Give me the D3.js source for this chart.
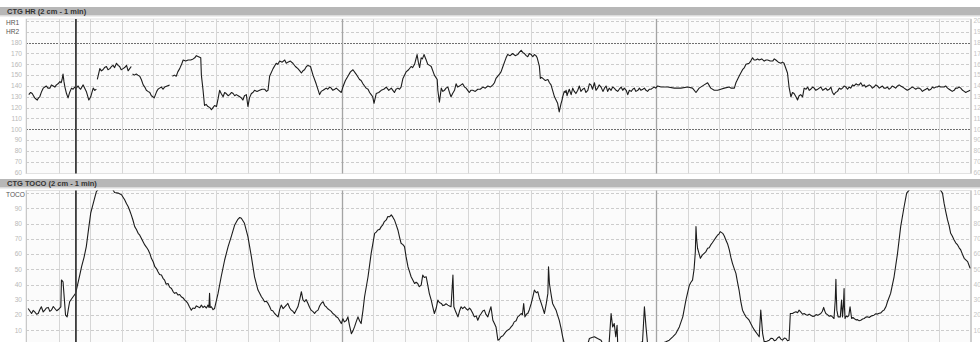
<!DOCTYPE html>
<html>
<head>
<meta charset="utf-8">
<script src="https://cdn.jsdelivr.net/npm/d3@7"></script>
<style>
  body { margin: 0; background: #ffffff; }
  svg { display: block; }
  text { font-family: "Liberation Sans", Arial, sans-serif; }
</style>
</head>
<body>
<svg id="chart" width="980" height="342"></svg>
<script>
// ---- recording data -------------------------------------------------------
// Time axis in minutes (2 cm per minute on paper), one grid line per minute.
const minuteTicks = d3.range(0, 31);
const boldMinutes = [10, 20];
const markerMinute = 1.54;

const hrTicks = [60, 70, 80, 90, 100, 110, 120, 130, 140, 150, 160, 170, 180, 190, 200];
const hrBoldTicks = [100, 180];
const hrLeftLabels = ["60", "70", "80", "90", "100", "110", "120", "130", "140", "150", "160", "170", "180", "HR2", "HR1"];

const tocoTicks = [0, 10, 20, 30, 40, 50, 60, 70, 80, 90, 100];
const tocoLeftLabels = ["", "10", "20", "30", "40", "50", "60", "70", "80", "90", "TOCO"];

// Fetal heart rate [minute, bpm]; null marks signal loss
const hrTrace = [
  [0.04,132],[0.1,134],[0.15,133],[0.19,131],[0.23,129],[0.27,128],[0.31,127],[0.35,129],
  [0.39,130],[0.45,135],[0.5,138],[0.55,139],[0.6,140],[0.65,138],[0.71,138],[0.76,141],
  [0.82,140],[0.87,139],[0.92,141],[0.97,142],[1.03,144],[1.07,143],[1.1,146],[1.13,151],
  [1.16,144],[1.19,139],[1.24,133],[1.29,129],[1.34,134],[1.4,138],[1.45,137],[1.5,139],
  [1.55,138],[1.61,140],[1.65,138],[1.69,137],[1.73,139],[1.77,141],[1.82,138],[1.87,135],
  [1.91,131],[1.95,127],[2.01,130],[2.05,134],[2.09,138],[2.14,136],[2.19,137],[2.2,null],
  [2.22,146],[2.26,151],[2.3,156],[2.35,154],[2.4,155],[2.45,157],[2.51,158],[2.56,155],
  [2.62,156],[2.67,158],[2.72,159],[2.77,157],[2.83,161],[2.88,159],[2.93,158],[2.98,155],
  [3.04,156],[3.09,157],[3.15,159],[3.2,154],[3.25,156],[3.3,158],[3.32,null],
  [3.34,151],[3.4,150],[3.46,151],[3.51,150],[3.57,149],[3.62,146],[3.68,141],[3.73,139],
  [3.78,136],[3.83,135],[3.89,134],[3.94,131],[3.99,130],[4.03,129],[4.07,132],[4.11,135],
  [4.15,137],[4.2,138],[4.26,139],[4.31,137],[4.36,139],[4.44,140],[4.52,141],[4.56,null],
  [4.61,149],[4.67,150],[4.73,149],[4.78,153],[4.84,156],[4.9,160],[4.95,164],[5.03,163],
  [5.11,164],[5.19,164],[5.27,165],[5.32,166],[5.37,168],[5.44,167],[5.51,166],[5.53,150],
  [5.58,137],[5.63,122],[5.68,123],[5.74,121],[5.8,120],[5.85,118],[5.9,120],[5.95,122],
  [6.01,121],[6.06,128],[6.11,136],[6.16,133],[6.22,130],[6.27,134],[6.32,133],[6.38,131],
  [6.43,132],[6.49,134],[6.54,133],[6.59,131],[6.64,132],[6.7,131],[6.75,130],[6.8,129],
  [6.85,127],[6.9,131],[6.96,132],[7.01,121],[7.06,129],[7.12,133],[7.17,134],[7.22,136],
  [7.3,135],[7.38,136],[7.46,137],[7.54,137],[7.6,135],[7.65,136],[7.7,149],[7.81,156],
  [7.91,161],[7.96,160],[8.02,163],[8.1,162],[8.18,164],[8.23,161],[8.28,162],[8.36,163],
  [8.44,161],[8.52,158],[8.6,156],[8.66,154],[8.71,152],[8.76,154],[8.81,155],[8.87,158],
  [8.92,159],[9.0,158],[9.08,150],[9.18,142],[9.29,132],[9.34,135],[9.4,136],[9.45,137],
  [9.5,138],[9.55,137],[9.61,139],[9.66,138],[9.71,136],[9.77,137],[9.82,138],[9.9,136],
  [9.98,134],[10.03,139],[10.11,145],[10.19,149],[10.27,153],[10.35,155],[10.45,151],[10.56,146],
  [10.61,145],[10.67,142],[10.72,140],[10.77,138],[10.83,137],[10.88,134],[10.93,132],[10.98,130],
  [11.02,124],[11.09,133],[11.17,134],[11.25,136],[11.33,137],[11.41,139],[11.49,136],[11.57,138],
  [11.62,136],[11.67,134],[11.72,137],[11.78,138],[11.83,137],[11.88,139],[11.94,147],[12.04,153],
  [12.12,155],[12.2,158],[12.25,157],[12.31,160],[12.39,169],[12.43,162],[12.47,157],[12.52,166],
  [12.56,165],[12.61,169],[12.68,164],[12.73,160],[12.79,159],[12.84,158],[12.94,150],[13.03,146],
  [13.05,136],[13.1,125],[13.16,138],[13.21,135],[13.26,136],[13.31,138],[13.37,139],[13.42,134],
  [13.47,130],[13.52,133],[13.58,136],[13.63,142],[13.68,139],[13.74,140],[13.79,141],[13.84,142],
  [13.9,139],[13.95,138],[14.0,136],[14.05,134],[14.1,136],[14.16,136],[14.24,135],[14.32,137],
  [14.4,137],[14.48,139],[14.56,138],[14.64,140],[14.72,139],[14.8,141],[14.85,143],[14.9,147],
  [15.01,151],[15.06,153],[15.12,158],[15.17,162],[15.22,166],[15.27,169],[15.35,168],[15.43,170],
  [15.51,168],[15.59,169],[15.64,171],[15.7,173],[15.75,171],[15.8,170],[15.86,168],[15.91,167],
  [15.96,170],[16.02,169],[16.07,167],[16.12,169],[16.17,168],[16.21,166],[16.28,158],[16.31,147],
  [16.35,148],[16.39,147],[16.47,145],[16.55,146],[16.6,143],[16.65,141],[16.7,136],[16.76,130],
  [16.81,127],[16.86,124],[16.91,116],[16.97,124],[17.0,127],[17.02,130],[17.05,133],[17.07,135],
  [17.1,134],[17.13,136],[17.16,131],[17.18,133],[17.23,137],[17.29,132],[17.34,138],[17.39,135],
  [17.44,133],[17.5,136],[17.55,140],[17.6,135],[17.66,137],[17.71,138],[17.76,134],[17.82,136],
  [17.87,142],[17.92,141],[17.97,137],[18.03,143],[18.08,136],[18.13,138],[18.18,141],[18.24,139],
  [18.3,135],[18.35,138],[18.4,140],[18.45,135],[18.5,138],[18.56,136],[18.61,139],[18.66,138],
  [18.72,136],[18.77,135],[18.82,137],[18.88,139],[18.93,136],[18.98,138],[19.04,136],[19.09,132],
  [19.14,136],[19.2,135],[19.25,137],[19.3,138],[19.35,135],[19.41,136],[19.46,138],[19.51,136],
  [19.57,137],[19.62,138],[19.67,136],[19.72,135],[19.78,137],[19.83,137],[19.88,138],[19.93,139],
  [19.98,138],[20.04,140],[20.15,139],[20.36,139],[20.57,138],[20.78,138],[21.0,139],[21.15,138],
  [21.26,134],[21.36,138],[21.52,141],[21.63,143],[21.73,138],[21.84,136],[21.95,136],[22.05,137],
  [22.16,138],[22.32,139],[22.37,138],[22.48,138],[22.53,143],[22.63,149],[22.74,155],[22.8,157],
  [22.85,160],[22.95,161],[23.0,163],[23.06,166],[23.11,164],[23.16,164],[23.22,165],[23.27,164],
  [23.35,165],[23.43,163],[23.49,164],[23.54,164],[23.62,163],[23.7,163],[23.75,165],[23.8,164],
  [23.88,162],[23.96,161],[24.01,162],[24.06,161],[24.17,152],[24.22,139],[24.28,130],[24.33,134],
  [24.38,133],[24.44,130],[24.49,127],[24.54,131],[24.59,132],[24.65,130],[24.7,138],[24.76,137],
  [24.81,139],[24.86,136],[24.91,137],[24.97,139],[25.02,138],[25.07,136],[25.13,137],[25.18,138],
  [25.23,139],[25.29,136],[25.34,137],[25.39,138],[25.44,136],[25.5,137],[25.55,139],[25.6,134],
  [25.65,132],[25.7,134],[25.76,135],[25.82,138],[25.87,137],[25.92,138],[25.97,140],[26.03,139],
  [26.08,137],[26.13,139],[26.18,138],[26.24,141],[26.29,140],[26.35,142],[26.4,141],[26.45,141],
  [26.5,143],[26.56,140],[26.61,141],[26.66,139],[26.71,140],[26.77,141],[26.82,140],[26.87,138],
  [26.92,139],[26.98,141],[27.03,140],[27.09,138],[27.14,139],[27.19,140],[27.24,138],[27.3,138],
  [27.35,139],[27.4,137],[27.45,138],[27.5,140],[27.56,139],[27.61,138],[27.67,140],[27.72,141],
  [27.77,140],[27.83,139],[27.88,138],[27.93,137],[27.98,136],[28.04,137],[28.09,138],[28.14,139],
  [28.2,138],[28.25,137],[28.3,138],[28.36,138],[28.41,137],[28.46,135],[28.51,136],[28.57,137],
  [28.62,138],[28.67,136],[28.73,137],[28.78,139],[28.83,138],[28.89,139],[28.94,139],[28.99,140],
  [29.04,139],[29.1,139],[29.15,139],[29.2,140],[29.26,138],[29.31,137],[29.36,136],[29.41,135],
  [29.47,136],[29.52,138],[29.58,138],[29.63,139],[29.68,138],[29.74,136],[29.79,135],[29.84,134],
  [29.9,135],[29.98,136]
];

// Uterine activity [minute, toco units]
const tocoTrace = [
  [0.02,24.3],[0.08,22.5],[0.13,21],[0.18,23],[0.23,22],[0.29,20.5],[0.34,21],[0.39,23.5],
  [0.44,25.4],[0.5,22],[0.55,23.2],[0.6,24.6],[0.66,25],[0.71,22.4],[0.76,23.2],[0.82,25.6],
  [0.87,24.3],[0.93,22.8],[0.98,23.6],[1.06,25.4],[1.08,43],[1.13,41.8],[1.17,30.9],[1.21,19.9],
  [1.26,18.8],[1.3,24],[1.34,28.7],[1.45,32],[1.53,34.2],[1.59,39.6],[1.66,46],[1.72,51.7],
  [1.8,58],[1.87,64.9],[1.94,76],[2.01,86.8],[2.12,95.6],[2.19,101],[2.4,106],[2.6,106],
  [2.77,100.4],[2.88,100],[2.99,98.9],[3.09,95.6],[3.15,93],[3.2,91.2],[3.25,88.6],[3.3,85.7],
  [3.35,82.5],[3.41,78],[3.46,76.3],[3.52,73.6],[3.57,72.4],[3.62,70.3],[3.68,67.9],[3.73,66],
  [3.78,64.6],[3.84,62.7],[3.89,60.4],[3.94,57.2],[4.0,54.8],[4.05,51.7],[4.1,50.5],[4.15,48.4],
  [4.2,46.6],[4.26,46.2],[4.31,44.1],[4.36,42.9],[4.41,40.2],[4.47,40.7],[4.52,38.3],[4.58,37.4],
  [4.63,35.4],[4.68,34.2],[4.73,34.8],[4.79,33.1],[4.84,33.5],[4.89,32],[4.95,31.2],[5.0,29.8],
  [5.05,28.9],[5.1,27.6],[5.15,25.5],[5.21,23.2],[5.26,24.6],[5.32,24.3],[5.37,26],[5.42,25.4],
  [5.48,24.8],[5.53,26.5],[5.58,24.9],[5.63,25.8],[5.69,24.6],[5.74,26.5],[5.77,25],[5.79,34.2],
  [5.81,25],[5.85,25.4],[5.9,23.5],[5.95,24.3],[6.06,34.2],[6.16,45.1],[6.27,56.1],[6.38,64.9],
  [6.48,71.4],[6.59,79.1],[6.69,82.8],[6.75,84],[6.8,83.5],[6.9,80.2],[7.01,71.4],[7.12,58.3],
  [7.22,45.1],[7.33,36.4],[7.38,34.5],[7.44,32],[7.49,30.5],[7.54,28.7],[7.6,29],[7.65,27.6],
  [7.7,25.6],[7.75,23.2],[7.8,22.8],[7.86,21],[7.91,20],[7.97,18.8],[8.02,23.5],[8.07,26.5],
  [8.13,24.2],[8.18,25.4],[8.23,26.4],[8.28,27.6],[8.34,24.6],[8.39,23.2],[8.44,22.5],[8.49,21],
  [8.55,23.4],[8.6,25.4],[8.66,30.5],[8.71,35.3],[8.76,30],[8.81,28.7],[8.86,30.2],[8.92,27.6],
  [8.97,25.1],[9.02,23.2],[9.08,22.2],[9.13,21],[9.18,22.4],[9.24,23.2],[9.29,25.9],[9.34,27.6],
  [9.4,28.7],[9.45,26.2],[9.5,25.4],[9.55,24.1],[9.61,23.2],[9.66,22.4],[9.71,21],[9.77,20.1],
  [9.82,18.8],[9.87,18.2],[9.92,16.6],[9.98,14.4],[10.03,17.5],[10.08,15.5],[10.14,16.4],[10.19,18.8],
  [10.24,13.2],[10.3,7.8],[10.35,9.6],[10.4,12.2],[10.45,15.3],[10.51,18.8],[10.56,16.2],[10.61,14.4],
  [10.67,23.2],[10.72,32],[10.83,45.1],[10.93,60.5],[11.04,73.6],[11.09,74.4],[11.14,75.8],[11.2,76.2],
  [11.25,78],[11.3,79.2],[11.35,81.3],[11.41,82.4],[11.46,84.6],[11.52,84.5],[11.57,85.7],[11.62,84.2],
  [11.67,82.4],[11.72,79.5],[11.78,75.8],[11.83,71.2],[11.88,67.1],[11.94,66.2],[11.99,64.9],[12.04,58.3],
  [12.1,51.7],[12.15,48.5],[12.2,45.1],[12.25,43.2],[12.31,40.7],[12.36,41.5],[12.41,40.7],[12.46,38.6],
  [12.52,39.6],[12.57,46.2],[12.62,44.6],[12.68,45.1],[12.73,39.6],[12.78,34.1],[12.84,29.8],[12.89,25.2],
  [12.94,21],[13.0,24.6],[13.05,29.8],[13.1,28.2],[13.16,27.6],[13.21,26.2],[13.26,26.5],[13.31,27.4],
  [13.37,26.5],[13.42,25.9],[13.47,25.4],[13.53,46.2],[13.56,25.4],[13.62,22.1],[13.69,18.8],[13.74,22.6],
  [13.79,25.4],[13.84,24.2],[13.9,25.4],[13.95,24.1],[14.0,23.2],[14.06,24.5],[14.11,23.2],[14.16,21.1],
  [14.21,18.8],[14.27,19.4],[14.32,16.6],[14.38,19.5],[14.43,21],[14.48,22.6],[14.53,23.2],[14.58,20.4],
  [14.64,18.8],[14.69,22.3],[14.74,25.4],[14.8,16.6],[14.85,14.4],[14.9,12.2],[14.96,3.5],[15.01,4.1],
  [15.06,5.7],[15.12,6.4],[15.17,7.8],[15.22,9.2],[15.27,10.1],[15.33,10.8],[15.38,12.2],[15.43,13.4],
  [15.48,15.5],[15.54,16.2],[15.59,18.8],[15.64,19.6],[15.7,21],[15.74,20.2],[15.78,27.6],[15.82,18.8],
  [15.87,20.6],[15.91,21],[15.96,23.5],[16.02,27.6],[16.07,31.8],[16.12,36.4],[16.18,34.6],[16.23,35.3],
  [16.28,31.2],[16.34,27.6],[16.39,24.4],[16.44,21],[16.5,27.6],[16.55,34.2],[16.57,51.7],[16.6,40.5],
  [16.63,36.4],[16.67,31.2],[16.7,27.6],[16.76,25.1],[16.81,23.2],[16.86,19.8],[16.91,16.6],[16.97,11.2],
  [17.02,5.7],[17.07,1.3],[17.45,0],[17.76,0.5],[17.84,2.4],[17.87,4.6],[17.95,5.2],[18.03,5.7],
  [18.13,4.6],[18.24,3.5],[18.29,1.3],[18.4,0],[18.5,2.4],[18.56,21],[18.61,12.2],[18.66,14.4],
  [18.71,5.7],[18.75,13.3],[18.77,1.3],[19.2,0],[19.56,2.4],[19.62,25.4],[19.67,12.2],[19.72,1.3],
  [20.0,0],[20.3,2.4],[20.41,3.5],[20.52,5.7],[20.62,7.8],[20.73,12.2],[20.84,18.8],[20.94,29.8],
  [21.0,35.2],[21.05,39.6],[21.1,41.5],[21.15,42.9],[21.2,50.2],[21.24,61.6],[21.26,78],[21.28,70],
  [21.31,63.8],[21.36,60.1],[21.4,57.2],[21.46,59.3],[21.52,60.5],[21.57,61.4],[21.63,63.8],[21.68,64.2],
  [21.73,66],[21.78,67.4],[21.84,69.2],[21.89,70.8],[21.95,72.5],[21.99,73.1],[22.03,74.7],[22.11,73.6],
  [22.16,71.8],[22.21,69.2],[22.27,66.4],[22.32,62.7],[22.37,57.8],[22.42,53.9],[22.47,50.8],[22.53,47.3],
  [22.58,41.6],[22.63,36.4],[22.68,29.5],[22.74,23.2],[22.8,20.6],[22.85,18.8],[22.9,17.8],[22.95,16.6],
  [23.01,14.1],[23.06,12.2],[23.11,10.4],[23.16,8.9],[23.22,7.2],[23.27,5.7],[23.32,23.2],[23.38,7.8],
  [23.43,2.4],[23.51,2.8],[23.59,3.5],[23.65,4.8],[23.7,4.6],[23.75,3.2],[23.8,3.5],[23.86,5.1],
  [23.91,5.7],[23.96,4.2],[24.01,3.5],[24.07,4.9],[24.12,4.6],[24.17,3.1],[24.22,3.5],[24.26,21],
  [24.33,21],[24.38,21.6],[24.44,22.1],[24.49,21.5],[24.54,23.2],[24.59,22.1],[24.65,20.5],[24.7,21],
  [24.76,20.2],[24.81,19.9],[24.86,20.6],[24.91,19.9],[24.97,19.1],[25.02,19.2],[25.08,20.3],[25.13,19.9],
  [25.18,20.4],[25.23,21],[25.28,22.5],[25.32,25],[25.36,22.4],[25.39,21],[25.45,20.1],[25.5,19.2],
  [25.55,19.6],[25.6,18.8],[25.65,17.7],[25.69,30],[25.71,43.4],[25.72,35],[25.74,23.2],[25.78,18.8],
  [25.85,18.8],[25.89,29.8],[25.92,18.8],[25.95,27],[25.97,37.4],[25.98,26],[26.0,17.7],[26.04,19.3],
  [26.08,18.8],[26.12,19.6],[26.16,25.4],[26.21,17.7],[26.25,18.4],[26.29,17.7],[26.35,16.8],[26.4,17],
  [26.45,16.2],[26.5,16.6],[26.56,17.4],[26.61,17.7],[26.66,18.6],[26.71,18.8],[26.77,18.4],[26.82,19.2],
  [26.87,19.6],[26.92,19.9],[26.98,20.8],[27.03,20.6],[27.09,21.2],[27.14,21.4],[27.19,22.6],[27.24,23.2],
  [27.3,25.4],[27.35,28.7],[27.45,34.2],[27.56,45.1],[27.67,60.5],[27.77,78],[27.88,91.2],[27.96,100],
  [28.2,106],[28.9,106],[29.1,100],[29.15,93.4],[29.2,88.2],[29.26,82.4],[29.31,78.6],[29.36,73.6],
  [29.41,71.8],[29.47,69.2],[29.52,67.4],[29.58,66],[29.63,64.1],[29.68,62.7],[29.74,59.6],[29.79,57.2],
  [29.84,56.2],[29.9,55],[29.94,52.8],[29.98,50.6]
];

// ---- layout ---------------------------------------------------------------
const svg = d3.select("#chart");
const W = 980;
const plotLeft = 26, plotRight = 971;

const x = d3.scaleLinear().domain([0, 30]).range([27.5, 970.8]);

const panels = [
  {
    title: "CTG HR (2 cm - 1 min)", headerY: 7, top: 19, bottom: 173.5,
    y: d3.scaleLinear().domain([60, 200]).range([172.6, 21.0]),
    ticks: hrTicks, bold: hrBoldTicks, leftLabels: hrLeftLabels,
    rightTicks: hrTicks, trace: hrTrace, id: "hr"
  },
  {
    title: "CTG TOCO (2 cm - 1 min)", headerY: 179, top: 190.5, bottom: 360,
    y: d3.scaleLinear().domain([0, 100]).range([345.5, 193.1]),
    ticks: tocoTicks, bold: [], leftLabels: tocoLeftLabels,
    rightTicks: tocoTicks, trace: tocoTrace, id: "toco"
  }
];

const defs = svg.append("defs");

panels.forEach(p => {
  const g = svg.append("g");

  // header bar
  g.append("rect").attr("x", 0).attr("y", p.headerY).attr("width", W).attr("height", 8.5)
    .attr("fill", "#b7b7b7");
  g.append("rect").attr("x", 0).attr("y", p.headerY + 8.5).attr("width", W).attr("height", 1)
    .attr("fill", "#dcdcdc");
  g.append("text").attr("x", 7).attr("y", p.headerY + 6.8)
    .attr("font-size", 7.5).attr("font-weight", "bold").attr("fill", "#333")
    .text(p.title);

  // plot background
  g.append("rect").attr("x", plotLeft).attr("y", p.top)
    .attr("width", plotRight - plotLeft).attr("height", p.bottom - p.top)
    .attr("fill", "#fbfbfb").attr("stroke", "#e2e2e2").attr("stroke-width", 1);

  // horizontal dashed grid
  const inner = p.ticks.filter(v => p.y(v) > p.top + 1 && p.y(v) < p.bottom - 1);
  g.append("g").selectAll("line").data(inner).join("line")
    .attr("x1", plotLeft).attr("x2", plotRight)
    .attr("y1", v => Math.round(p.y(v)) + 0.5).attr("y2", v => Math.round(p.y(v)) + 0.5)
    .attr("stroke", v => p.bold.includes(v) ? "#6f6f6f" : "#cccccc")
    .attr("stroke-width", 1)
    .attr("stroke-dasharray", v => p.bold.includes(v) ? "2,1" : "3,2");

  // vertical minute grid
  g.append("g").selectAll("line").data(minuteTicks.slice(1, 30)).join("line")
    .attr("x1", m => Math.round(x(m)) + 0.5).attr("x2", m => Math.round(x(m)) + 0.5)
    .attr("y1", p.top).attr("y2", p.bottom)
    .attr("stroke", m => boldMinutes.includes(m) ? "#a4a4a4" : "#d6d6d6")
    .attr("stroke-width", m => boldMinutes.includes(m) ? 1.3 : 1);

  // left and right axis rails
  g.append("line").attr("x1", plotLeft + 0.5).attr("x2", plotLeft + 0.5)
    .attr("y1", p.top).attr("y2", p.bottom).attr("stroke", "#c9c9c9");
  g.append("line").attr("x1", plotRight).attr("x2", plotRight)
    .attr("y1", p.top).attr("y2", p.bottom).attr("stroke", "#cfcfcf").attr("stroke-width", 2);

  // left labels
  g.append("g").selectAll("text").data(p.ticks).join("text")
    .attr("x", (v, i) => /[A-Z]/.test(p.leftLabels[i]) ? 6 : 22)
    .attr("text-anchor", (v, i) => /[A-Z]/.test(p.leftLabels[i]) ? "start" : "end")
    .attr("y", v => Math.max(p.y(v), p.top + 4) + 2.3)
    .attr("font-size", 6.6)
    .attr("fill", (v, i) => /[A-Z]/.test(p.leftLabels[i]) ? "#555" : "#b9b9b9")
    .text((v, i) => p.leftLabels[i]);

  // right labels, running past the page edge
  g.append("g").selectAll("text").data(p.rightTicks).join("text")
    .attr("x", 973.5).attr("y", v => p.y(v) + 2.3)
    .attr("font-size", 6.6).attr("fill", "#c4c4c4")
    .text(v => String(v));

  // trace
  defs.append("clipPath").attr("id", "clip-" + p.id)
    .append("rect").attr("x", plotLeft).attr("y", p.top)
    .attr("width", plotRight - plotLeft).attr("height", p.bottom - p.top);

  const line = d3.line()
    .defined(d => d[1] != null)
    .x(d => x(d[0])).y(d => p.y(d[1]));

  g.append("path").datum(p.trace)
    .attr("clip-path", "url(#clip-" + p.id + ")")
    .attr("d", line).attr("fill", "none")
    .attr("stroke", "#1c1c1c").attr("stroke-width", 1.1).attr("stroke-linejoin", "round");

  // time cursor
  g.append("line").attr("x1", x(markerMinute)).attr("x2", x(markerMinute))
    .attr("y1", p.top).attr("y2", p.bottom)
    .attr("stroke", "#3a3a3a").attr("stroke-width", 1.8);
});
</script>
</body>
</html>
